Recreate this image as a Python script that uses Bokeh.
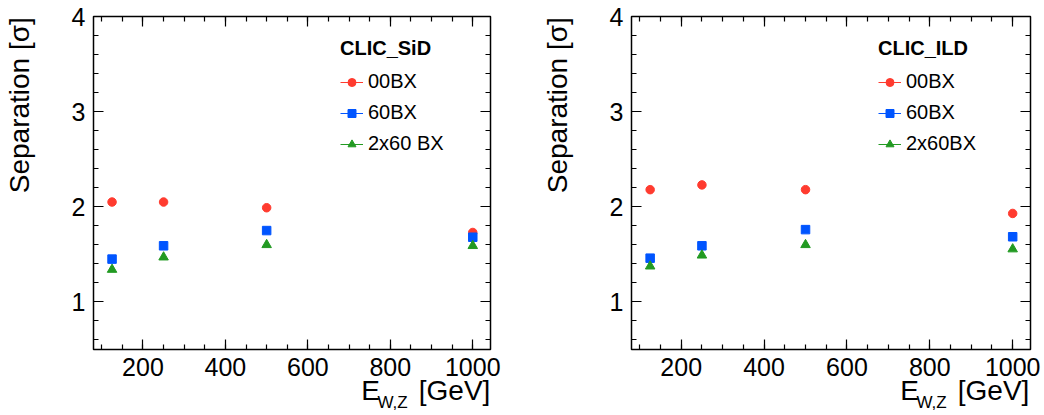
from bokeh.plotting import figure
from bokeh.layouts import row
from bokeh.models import (Range1d, SingleIntervalTicker, FixedTicker, LinearAxis, Legend, LegendItem,
                          CustomJSTickFormatter)
from bokeh.embed import file_html
from bokeh.resources import INLINE

# ---- data ----
energy = [125, 250, 500, 1000]
sid_00bx = [2.05, 2.05, 1.99, 1.73]
sid_60bx = [1.45, 1.59, 1.75, 1.68]
sid_2x60bx = [1.34, 1.47, 1.60, 1.59]
ild_00bx = [2.18, 2.23, 2.18, 1.93]
ild_60bx = [1.46, 1.59, 1.76, 1.685]
ild_2x60bx = [1.375, 1.49, 1.60, 1.555]

series_labels_sid = ["00BX", "60BX", "2x60 BX"]
series_labels_ild = ["00BX", "60BX", "2x60BX"]
detectors = ["CLIC_SiD", "CLIC_ILD"]
y_title = "Separation [σ]"
x_title_main = "E"
x_title_sub = "W,Z"
x_title_unit = "[GeV]"

RED = "#ff3b2f"
BLUE = "#0055ff"
GREEN = "#229a22"
FONT = "Liberation Sans"
EM = "\u2003"
NB = "\u00a0"


def style_ticks(ax):
    ax.axis_line_color = None
    ax.major_tick_in = 10
    ax.major_tick_out = 0
    ax.minor_tick_in = 5
    ax.minor_tick_out = 0
    ax.major_tick_line_color = "black"
    ax.minor_tick_line_color = "black"
    ax.major_tick_line_width = 1.2
    ax.minor_tick_line_width = 1.2


def make_panel(title, ys, labels, width, left, right):
    p = figure(width=width, height=415, output_backend="svg", toolbar_location=None,
               x_range=Range1d(80, 1043), y_range=Range1d(0.5, 4.0),
               min_border_left=left, min_border_right=right,
               min_border_top=16, min_border_bottom=66)
    p.grid.visible = False
    p.outline_line_color = "black"
    p.outline_line_width = 1.5
    p.background_fill_color = "white"
    p.border_fill_color = "white"

    p.xaxis[0].ticker = SingleIntervalTicker(interval=200, num_minor_ticks=4)
    p.yaxis[0].ticker = SingleIntervalTicker(interval=1, num_minor_ticks=5)
    for ax in (p.xaxis[0], p.yaxis[0]):
        style_ticks(ax)
        ax.major_label_text_font = FONT
        ax.major_label_text_font_size = "25px"
        ax.major_label_text_color = "black"
    p.xaxis.major_label_standoff = 8
    p.yaxis.major_label_standoff = 8

    # y title: pushed to the top end of the axis (leading spaces shift the centred text)
    p.yaxis.axis_label = EM * 5 + NB * 2 + y_title
    p.yaxis.axis_label_text_font = FONT
    p.yaxis.axis_label_text_font_size = "28px"
    p.yaxis.axis_label_text_font_style = "normal"
    p.yaxis.axis_label_text_color = "black"
    p.yaxis.axis_label_standoff = 34

    # x title: "E   [GeV]" on the main axis, subscript on a second, tick-less axis
    p.xaxis.axis_label = EM * 9 + NB * 2 + x_title_main + NB * 5 + x_title_unit
    p.xaxis.axis_label_text_font = FONT
    p.xaxis.axis_label_text_font_size = "28px"
    p.xaxis.axis_label_text_font_style = "normal"
    p.xaxis.axis_label_text_color = "black"
    p.xaxis.axis_label_standoff = -4

    sub = LinearAxis(ticker=FixedTicker(ticks=[]))
    sub.axis_line_color = None
    sub.major_tick_line_color = None
    sub.minor_tick_line_color = None
    sub.major_tick_in = 0
    sub.major_tick_out = 0
    sub.minor_tick_in = 0
    sub.minor_tick_out = 0
    sub.major_label_standoff = 0
    sub.axis_label = EM * 11 + NB * 3 + x_title_sub
    sub.axis_label_text_font = FONT
    sub.axis_label_text_font_size = "17px"
    sub.axis_label_text_font_style = "normal"
    sub.axis_label_text_color = "black"
    sub.axis_label_standoff = -16
    p.add_layout(sub, "below")

    # mirrored axes (ticks only)
    for loc, tk in (("above", SingleIntervalTicker(interval=200, num_minor_ticks=4)),
                    ("right", SingleIntervalTicker(interval=1, num_minor_ticks=5))):
        ax = LinearAxis(ticker=tk, formatter=CustomJSTickFormatter(code="return ''"))
        style_ticks(ax)
        ax.major_label_standoff = 0
        p.add_layout(ax, loc)

    colors = [RED, BLUE, GREEN]
    markers = ["circle", "square", "triangle"]
    sizes = [8.5, 8.5, 9.5]
    items = []
    for yv, lab, c, m, s in zip(ys, labels, colors, markers, sizes):
        ln = p.line(x=energy, y=yv, line_color=c, line_width=1, visible=False)
        sc = p.scatter(x=energy, y=yv, marker=m, size=s, fill_color=c, line_color=c)
        items.append(LegendItem(label=lab, renderers=[ln, sc]))

    leg = Legend(items=items, location=(247, 194), title=title,
                 title_text_font=FONT, title_text_font_style="bold", title_text_font_size="20px",
                 title_text_color="black",
                 title_standoff=10, label_text_font=FONT, label_text_font_size="20px",
                 label_text_color="black",
                 label_standoff=5, glyph_width=23, glyph_height=20, label_height=20,
                 spacing=8, padding=0, margin=0, border_line_color=None,
                 background_fill_alpha=0)
    p.add_layout(leg, "center")
    return p


p1 = make_panel(detectors[0], [sid_00bx, sid_60bx, sid_2x60bx], series_labels_sid, 520, 90, 30)
p2 = make_panel(detectors[1], [ild_00bx, ild_60bx, ild_2x60bx], series_labels_ild, 524, 111, 14)

layout = row(p1, p2)
open("out.html", "w").write(file_html(layout, INLINE))
